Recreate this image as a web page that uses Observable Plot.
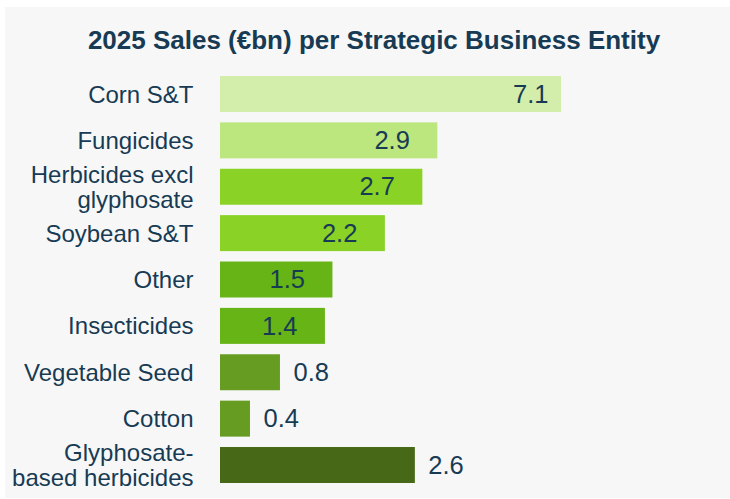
<!DOCTYPE html>
<html><head><meta charset="utf-8">
<script src="https://cdn.jsdelivr.net/npm/d3@7"></script>
<script src="https://cdn.jsdelivr.net/npm/@observablehq/plot@0.6"></script>
<style>
body{margin:0;background:#fff;font-family:"Liberation Sans",Arial,sans-serif;}
#wrap{position:relative;width:730px;height:499px;overflow:hidden;}
#panel{position:absolute;left:5px;top:7px;width:725px;height:491px;background:#f7f7f7;}
#title{position:absolute;left:18px;width:712px;top:25px;text-align:center;font-weight:bold;font-size:26px;line-height:30px;color:#173b54;white-space:nowrap;}
#chart{position:absolute;left:0;top:60px;}
</style></head><body>
<div id="wrap"><div id="panel"></div><div id="title">2025 Sales (€bn) per Strategic Business Entity</div><div id="chart"></div></div>
<script>
const categories = ["Corn S&T", "Fungicides", "Herbicides excl\nglyphosate", "Soybean S&T", "Other", "Insecticides", "Vegetable Seed", "Cotton", "Glyphosate-\nbased herbicides"];
const sales = [7.1, 2.9, 2.7, 2.2, 1.5, 1.4, 0.8, 0.4, 2.6];

const data = categories.map((name, i) => ({name, value: sales[i]}));
const xMax = 4.55; // axis is cut: larger bars are clamped at the edge
const fmt = d3.format(".1f");
const outside = d => d.value < 1 || d.name.startsWith("Glyphosate");
const ink = "#173b54";

const chart = Plot.plot({
  width: 730,
  height: 439,
  marginLeft: 220,
  marginRight: 169,
  marginTop: 16,
  marginBottom: 16,
  style: {background: "transparent", fontFamily: "'Liberation Sans', Arial, sans-serif", overflow: "visible"},
  x: {domain: [0, xMax], clamp: true, axis: null},
  y: {domain: categories, paddingInner: 0.224, paddingOuter: 0, round: false, axis: null},
  color: {domain: categories, range: ["#d3eeab", "#bce67e", "#8ad326", "#8ad326", "#66b415", "#66b415", "#669c22", "#669c22", "#476816"]},
  marks: [
    Plot.barX(data, {x: "value", y: "name", fill: "name"}),
    Plot.text(data, {y: "name", text: "name", frameAnchor: "left", textAnchor: "end", dx: -27, fontSize: 24, lineHeight: 1.05, fill: ink}),
    Plot.text(data.filter(d => d.value > xMax), {x: d => Math.min(d.value, xMax), y: "name", text: d => fmt(d.value), textAnchor: "end", dx: -13, fontSize: 25.5, fill: ink}),
    Plot.text(data.filter(d => d.value <= xMax && !outside(d)), {x: "value", y: "name", text: d => fmt(d.value), textAnchor: "end", dx: -28, fontSize: 25.5, fill: ink}),
    Plot.text(data.filter(outside), {x: "value", y: "name", text: d => fmt(d.value), textAnchor: "start", dx: 13, fontSize: 25.5, fill: ink})
  ]
});
document.getElementById("chart").append(chart);
</script>
</body></html>
